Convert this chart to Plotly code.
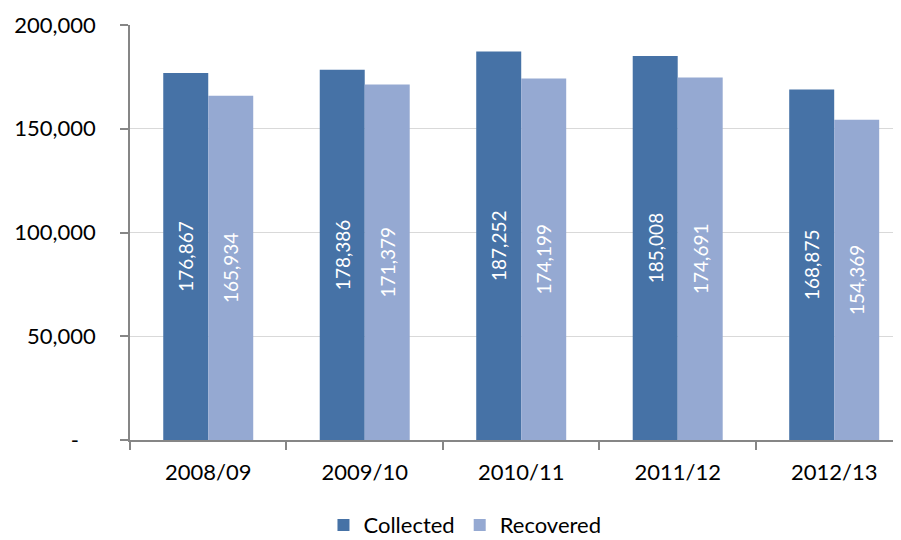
import plotly.graph_objects as go

categories = ["2008/09", "2009/10", "2010/11", "2011/12", "2012/13"]
collected = [176867, 178386, 187252, 185008, 168875]
recovered = [165934, 171379, 174199, 174691, 154369]
y_tickvals = [0, 50000, 100000, 150000, 200000]
y_ticktext = ["-\u00a0\u00a0\u00a0", "50,000", "100,000", "150,000", "200,000"]

FONT = "Lato, Liberation Sans, sans-serif"

fig = go.Figure()
fig.add_trace(go.Bar(
    x=categories, y=collected, name="Collected",
    marker=dict(color="#4672A6", line=dict(width=0)),
    texttemplate="%{y:,}", textposition="inside", insidetextanchor="middle",
    textangle=-90, textfont=dict(color="white", size=19, family=FONT),
    constraintext="none",
))
fig.add_trace(go.Bar(
    x=categories, y=recovered, name="Recovered",
    marker=dict(color="#95A9D2", line=dict(width=0)),
    texttemplate="%{y:,}", textposition="inside", insidetextanchor="middle",
    textangle=-90, textfont=dict(color="white", size=19, family=FONT),
    constraintext="none",
))

fig.update_layout(
    width=901, height=540,
    margin=dict(l=122, r=0, t=17, b=108, autoexpand=False),
    paper_bgcolor="white", plot_bgcolor="white",
    barmode="group", bargap=0.425, bargroupgap=0,
    font=dict(family=FONT, size=22, color="black"),
    showlegend=True,
    legend=dict(orientation="h", x=0.43, xanchor="center", y=-0.205, yanchor="middle",
                font=dict(size=22), itemwidth=30, traceorder="normal"),
    xaxis=dict(
        range=[-0.5, 4.478],
        showline=True, linecolor="#868686", linewidth=1.5,
        ticks="outside", tickson="boundaries", ticklen=8, tickcolor="#868686",
        tickwidth=1.5, showgrid=False, tickfont=dict(size=22), ticklabelstandoff=12,
        automargin=False,
    ),
    yaxis=dict(
        range=[0, 200000],
        tickvals=y_tickvals, ticktext=y_ticktext,
        showline=True, linecolor="#868686", linewidth=1.5,
        ticks="outside", ticklen=8, tickcolor="#868686", tickwidth=1.5,
        showgrid=True, gridcolor="#D9D9D9", gridwidth=1,
        zeroline=False, tickfont=dict(size=22), ticklabelstandoff=20,
        automargin=False,
    ),
)

fig.write_html("out.html")
